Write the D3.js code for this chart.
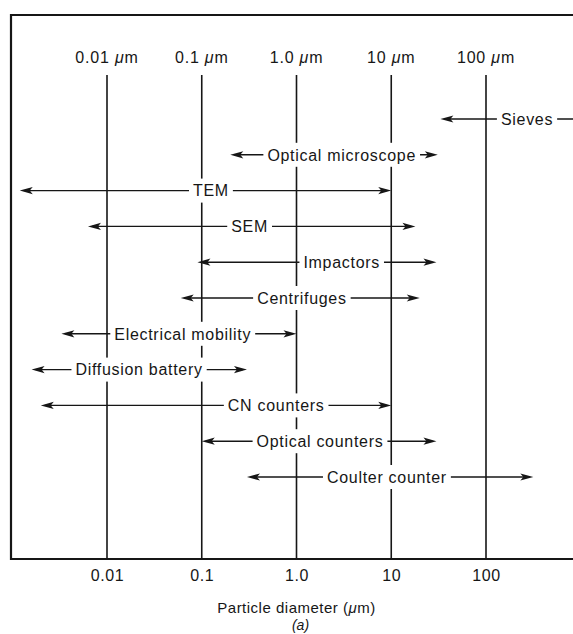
<!DOCTYPE html>
<html>
<head>
<meta charset="utf-8">
<script src="https://cdn.jsdelivr.net/npm/d3@7"></script>
<style>
  body { margin: 0; background: #fff; }
  svg { display: block; }
</style>
</head>
<body>
<svg id="chart"></svg>
<script>
// Decade lines and their labels
const decades = [0.01, 0.1, 1, 10, 100];
const topLabels = ["0.01", "0.1", "1.0", "10", "100"];
const bottomLabels = ["0.01", "0.1", "1.0", "10", "100"];

// Measuring methods and the size range (µm) each covers
const methods = [
  "Sieves",
  "Optical microscope",
  "TEM",
  "SEM",
  "Impactors",
  "Centrifuges",
  "Electrical mobility",
  "Diffusion battery",
  "CN counters",
  "Optical counters",
  "Coulter counter",
];
const minSize = [33, 0.2, 0.0012, 0.0063, 0.09, 0.06, 0.0033, 0.0016, 0.002, 0.1, 0.3];
const maxSize = [2000, 31, 10, 18, 30, 20, 1, 0.3, 10, 30, 316];
// where along the arrow the name sits (µm)
const labelAt = [271, 3.0, 0.125, 0.32, 3.0, 1.14, 0.063, 0.0218, 0.61, 1.77, 9.0];

const width = 573,
  height = 634;

const svg = d3.select("#chart").attr("width", width).attr("height", height);

const font = "'Liberation Sans', Arial, sans-serif";
const ink = "#161616";

const x = d3.scaleLog().domain([0.01, 100]).range([107, 486]);
const y = d3.scalePoint().domain(methods).range([119, 477]);

const frameTop = 15,
  frameBottom = 559,
  frameLeft = 11;

// frame (open on the right, as in the scan)
svg
  .append("path")
  .attr("d", `M${width},${frameTop}H${frameLeft}V${frameBottom}H${width}`)
  .attr("fill", "none")
  .attr("stroke", ink)
  .attr("stroke-width", 2.2);

// vertical decade lines
svg
  .append("g")
  .selectAll("line")
  .data(decades)
  .join("line")
  .attr("x1", (d) => x(d))
  .attr("x2", (d) => x(d))
  .attr("y1", 75)
  .attr("y2", frameBottom)
  .attr("stroke", ink)
  .attr("stroke-width", 1.6);

// top labels "0.01 µm" etc
const topText = svg
  .append("g")
  .selectAll("text")
  .data(decades)
  .join("text")
  .attr("x", (d) => x(d))
  .attr("y", 63)
  .attr("text-anchor", "middle")
  .style("font-family", font)
  .style("font-size", "16px")
  .style("letter-spacing", "0.8px")
  .style("fill", ink);
topText.append("tspan").text((d, i) => topLabels[i] + " ");
topText.append("tspan").style("font-style", "italic").text("\u03bc");
topText.append("tspan").text("m");

// bottom tick labels through an axis
const axis = svg
  .append("g")
  .attr("transform", `translate(0,${frameBottom})`)
  .call(
    d3
      .axisBottom(x)
      .tickValues(decades)
      .tickSize(0)
      .tickPadding(11)
      .tickFormat((d, i) => bottomLabels[i])
  )
  .attr("font-family", font)
  .attr("font-size", 16);
axis.select(".domain").remove();
axis
  .selectAll("text")
  .style("letter-spacing", "0.6px")
  .attr("fill", ink);

// axis title
const title = svg
  .append("text")
  .attr("x", x(1))
  .attr("y", 613)
  .attr("text-anchor", "middle")
  .style("font-family", font)
  .style("font-size", "15px")
  .style("letter-spacing", "0.5px")
  .style("fill", ink);
title.append("tspan").text("Particle diameter (");
title.append("tspan").style("font-style", "italic").text("\u03bc");
title.append("tspan").text("m)");

svg
  .append("text")
  .attr("x", x(1) + 4)
  .attr("y", 630)
  .attr("text-anchor", "middle")
  .style("font-family", font)
  .style("font-size", "14px")
  .style("font-style", "italic")
  .style("fill", ink)
  .text("(a)");

// arrowhead pointing along +x with tip at origin
const head = "M0,0L-13,-3.6L-10,0L-13,3.6Z";

const rows = svg
  .append("g")
  .selectAll("g")
  .data(methods)
  .join("g")
  .attr("transform", (d) => `translate(0,${y(d)})`);

rows
  .append("line")
  .attr("x1", (d, i) => x(minSize[i]) + 4)
  .attr("x2", (d, i) => x(maxSize[i]) - 4)
  .attr("stroke", ink)
  .attr("stroke-width", 1.4);

rows
  .append("path")
  .attr("d", head)
  .attr("transform", (d, i) => `translate(${x(minSize[i])},0) rotate(180)`)
  .attr("fill", ink);

rows
  .append("path")
  .attr("d", head)
  .attr("transform", (d, i) => `translate(${x(maxSize[i])},0)`)
  .attr("fill", ink);

// labels with a white gap behind them
const labels = rows
  .append("text")
  .attr("x", (d, i) => x(labelAt[i]))
  .attr("dy", "0.36em")
  .attr("text-anchor", "middle")
  .style("font-family", font)
  .style("font-size", "16px")
  .style("letter-spacing", "0.7px")
  .style("fill", ink)
  .text((d) => d);

labels.each(function () {
  const b = this.getBBox();
  d3.select(this.parentNode)
    .insert("rect", "text")
    .attr("x", b.x - 4)
    .attr("y", -12)
    .attr("width", b.width + 8)
    .attr("height", 24)
    .attr("fill", "#fff");
});
</script>
</body>
</html>
